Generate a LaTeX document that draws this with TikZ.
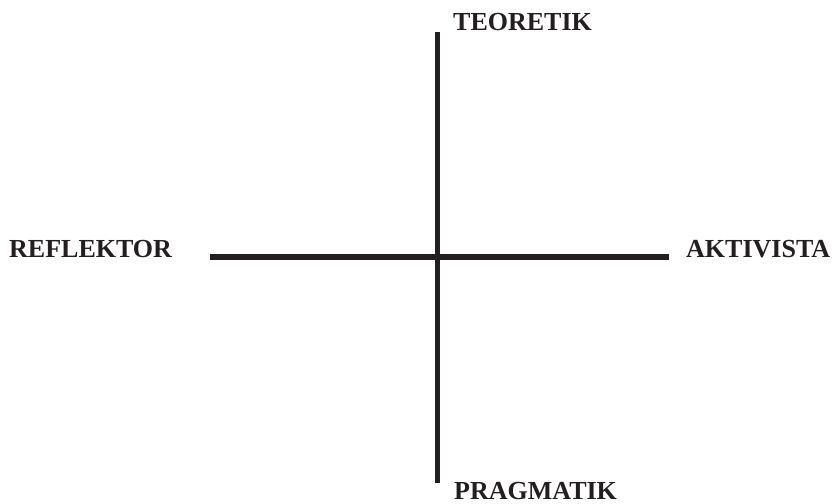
\documentclass[tikz,border=0pt]{standalone}
\usepackage{fontspec}
\setmainfont{Liberation Serif}
\usepackage{xcolor}
\usepackage{tikz}
\usetikzlibrary{positioning}
\definecolor{inkblack}{RGB}{35,31,32}

\begin{document}
\begin{tikzpicture}[x=1pt, y=-1pt,
    axis/.style={line width=5.5pt, draw=inkblack},
    lbl/.style={anchor=base west, inner sep=0pt, text=inkblack, text depth=0pt,
                font=\fontsize{26}{30}\selectfont\bfseries}
]
\useasboundingbox (0,0) rectangle (832,503);
\coordinate (top) at (437.5,32);
\coordinate (bot) at (437.5,483);
\coordinate (lft) at (210,257);
\coordinate (rgt) at (669,257);
\draw[axis] (top) -- (bot);
\draw[axis] (lft) -- (rgt);
\node[lbl] (teo) at (453,30.5) {TEORETIK};
\node[lbl] (pra) at (454,499) {PRAGMATIK};
\node[lbl] (ref) at (9,257.5) {REFLEKTOR};
\node[lbl] (akt) at (686,257.5) {AKTIVISTA};
\end{tikzpicture}
\end{document}
